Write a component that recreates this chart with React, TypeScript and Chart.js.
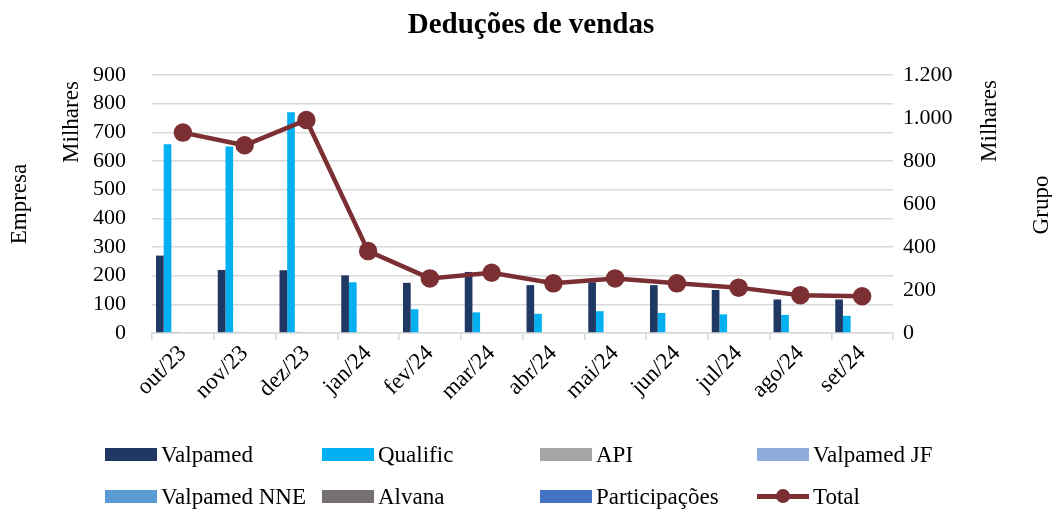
import React, { useEffect, useRef } from "react";
import { Chart, registerables } from "chart.js";

Chart.register(...registerables);

const months = ["out/23", "nov/23", "dez/23", "jan/24", "fev/24", "mar/24", "abr/24", "mai/24", "jun/24", "jul/24", "ago/24", "set/24"];
const valpamed = [270, 220, 219, 201, 175, 213, 167, 177, 167, 150, 117, 117];
const qualific = [658, 651, 770, 177, 83, 72, 67, 76, 70, 65, 63, 60];
const api = [4, 4, 4, 3, 0, 0, 0, 0, 0, 0, 0, 0];
const valpamedJF = [0, 0, 0, 0, 0, 0, 0, 0, 0, 0, 0, 0];
const valpamedNNE = [0, 0, 0, 0, 0, 0, 0, 0, 0, 0, 0, 0];
const alvana = [0, 0, 0, 0, 0, 0, 0, 0, 0, 0, 0, 0];
const participacoes = [0, 0, 0, 0, 0, 0, 0, 0, 0, 0, 0, 0];
const total = [932, 873, 991, 381, 254, 280, 231, 254, 231, 211, 176, 171];

const leftTicks = { min: 0, max: 900, step: 100 };
const rightTicks = { min: 0, max: 1200, step: 200 };

const FONT = "'Liberation Serif', 'DejaVu Serif', serif";
const GRID = "#d9d9d9";

const barSeries = [
  { label: "Valpamed", data: valpamed, color: "#203864" },
  { label: "Qualific", data: qualific, color: "#00B0F0" },
  { label: "API", data: api, color: "#A5A5A5" },
  { label: "Valpamed JF", data: valpamedJF, color: "#8FAADC" },
  { label: "Valpamed NNE", data: valpamedNNE, color: "#5B9BD5" },
  { label: "Alvana", data: alvana, color: "#767171" },
  { label: "Participações", data: participacoes, color: "#4472C4" },
];
const totalColor = "#7B2F33";

const textPlugin = {
  id: "texts",
  afterDraw(chart: any) {
    const ctx = chart.ctx;
    ctx.save();
    ctx.fillStyle = "#000";
    ctx.textAlign = "center";
    ctx.textBaseline = "middle";
    ctx.font = `bold 29px ${FONT}`;
    ctx.fillText("Deduções de vendas", 531, 26);
    ctx.font = `23px ${FONT}`;
    const rot = (t: string, x: number, y: number) => {
      ctx.save();
      ctx.translate(x, y);
      ctx.rotate(-Math.PI / 2);
      ctx.fillText(t, 0, 0);
      ctx.restore();
    };
    rot("Milhares", 72, 122);
    rot("Empresa", 20, 204);
    rot("Milhares", 990, 121);
    rot("Grupo", 1042, 205);
    ctx.restore();
  },
};

const fmt = (v: number) => String(v).replace(/\B(?=(\d{3})+(?!\d))/g, ".");

export default function App() {
  const ref = useRef<HTMLCanvasElement>(null);
  useEffect(() => {
    document.body.style.margin = "0";
    const datasets: any[] = barSeries.map((s) => ({
      type: "bar",
      label: s.label,
      data: s.data,
      backgroundColor: s.color,
      borderWidth: 0,
      yAxisID: "y",
      order: 1,
      categoryPercentage: 0.87,
      barPercentage: 1,
    }));
    datasets.push({
      type: "line",
      label: "Total",
      data: total,
      borderColor: totalColor,
      backgroundColor: totalColor,
      borderWidth: 4.5,
      pointRadius: 7,
      pointBackgroundColor: totalColor,
      pointBorderColor: totalColor,
      tension: 0,
      yAxisID: "y1",
      order: 0,
    });
    const chart = new Chart(ref.current as HTMLCanvasElement, {
      type: "bar",
      data: { labels: months, datasets },
      plugins: [textPlugin],
      options: {
        animation: false,
        responsive: true,
        maintainAspectRatio: false,
        layout: { padding: { top: 75, left: 0, right: 0, bottom: 0 } },
        plugins: { legend: { display: false }, tooltip: { enabled: false }, title: { display: false } },
        scales: {
          x: {
            offset: true,
            grid: { display: true, offset: true, drawOnChartArea: false, drawTicks: true, tickLength: 7, color: GRID, lineWidth: 1.5 },
            border: { display: true, color: GRID, width: 1.5 },
            ticks: { maxRotation: 45, minRotation: 45, autoSkip: false, color: "#000", font: { family: FONT, size: 23 }, padding: 0 },
            afterFit: (s: any) => { s.height = 176; },
          },
          y: {
            position: "left",
            min: leftTicks.min,
            max: leftTicks.max,
            ticks: { stepSize: leftTicks.step, autoSkip: false, color: "#000", font: { family: FONT, size: 22 }, padding: 26 },
            grid: { color: GRID, lineWidth: 1.5, drawTicks: false },
            border: { display: false },
            afterFit: (s: any) => { s.width = 152; },
          },
          y1: {
            position: "right",
            min: rightTicks.min,
            max: rightTicks.max,
            ticks: { stepSize: rightTicks.step, autoSkip: false, color: "#000", font: { family: FONT, size: 22 }, padding: 10, callback: (v: any) => fmt(Number(v)) },
            grid: { display: false, drawTicks: false },
            border: { display: false },
            afterFit: (s: any) => { s.width = 159; },
          },
        },
      } as any,
    });
    return () => chart.destroy();
  }, []);

  const cols = [105, 322, 540, 757];
  const rows = [448, 490];
  const legendItems = [...barSeries.map((s) => ({ label: s.label, color: s.color, line: false })), { label: "Total", color: totalColor, line: true }];

  return (
    <div style={{ position: "relative", width: 1052, height: 509, background: "#fff" }}>
      <canvas ref={ref} />
      {legendItems.map((it, i) => {
        const left = cols[i % 4];
        const top = rows[Math.floor(i / 4)];
        return (
          <div key={it.label} style={{ position: "absolute", left, top: top - 8, height: 29, display: "flex", alignItems: "center", fontFamily: FONT, fontSize: 23, color: "#000", whiteSpace: "nowrap" }}>
            {it.line ? (
              <div style={{ position: "relative", width: 52, height: 13 }}>
                <div style={{ position: "absolute", left: 0, top: 4, width: 52, height: 5, background: it.color }} />
                <div style={{ position: "absolute", left: 19, top: -1, width: 14, height: 14, borderRadius: 7, background: it.color }} />
              </div>
            ) : (
              <div style={{ width: 52, height: 13, background: it.color }} />
            )}
            <span style={{ marginLeft: 4 }}>{it.label}</span>
          </div>
        );
      })}
    </div>
  );
}
